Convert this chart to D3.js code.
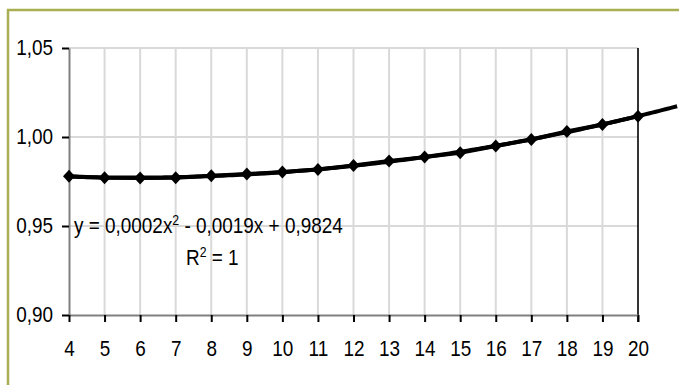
<!DOCTYPE html>
<html>
<head>
<meta charset="utf-8">
<script src="https://cdn.jsdelivr.net/npm/d3@7/dist/d3.min.js"></script>
<style>
  html, body { margin: 0; padding: 0; background: #fff; }
  svg { display: block; }
  text { font-family: "Liberation Sans", Arial, sans-serif; fill: #000; }
</style>
</head>
<body>
<svg id="chart" width="679" height="385"></svg>
<script>
// ---- data ----
const categories = [4, 5, 6, 7, 8, 9, 10, 11, 12, 13, 14, 15, 16, 17, 18, 19, 20];
const seriesValues = [0.9780, 0.9771, 0.9770, 0.9771, 0.9782, 0.9792, 0.9803, 0.9817, 0.9840,
                      0.9865, 0.9887, 0.9912, 0.9949, 0.9986, 1.0031, 1.0070, 1.0117];
const yTicks = [0.90, 0.95, 1.00, 1.05];
const xTicks = categories;
const equationText = ["y = 0,0002x", "2", " - 0,0019x + 0,9824"];
const r2Text = ["R", "2", " = 1"];
const trendForward = 1.1;

(function () {
// ---- layout ----
const pL = 69, pR = 638, pT = 48, pB = 315;
const FS = 21.5, SX = 0.88;
const svg = d3.select("#chart");

// outer frame (extends past image edge on right/bottom)
svg.append("rect")
  .attr("x", 8).attr("y", 10).attr("width", 720).attr("height", 420)
  .attr("fill", "#fff").attr("stroke", "#a9ae52").attr("stroke-width", 2.5);

const x = d3.scaleLinear().domain([4, 20]).range([pL, pR]);
const y = d3.scaleLinear().domain([0.90, 1.05]).range([pB, pT]);

// gridlines
const grid = svg.append("g");
grid.selectAll("line.h").data(yTicks.filter(v => v > 0.9)).join("line")
  .attr("x1", pL).attr("x2", pR)
  .attr("y1", d => y(d)).attr("y2", d => y(d))
  .attr("stroke", "#d9d9d9").attr("stroke-width", 2);
grid.selectAll("line.v").data(xTicks.filter(v => v > 4 && v < 20)).join("line")
  .attr("x1", d => x(d)).attr("x2", d => x(d))
  .attr("y1", pT).attr("y2", pB)
  .attr("stroke", "#d9d9d9").attr("stroke-width", 2);
// dark line at the last category
svg.append("line")
  .attr("x1", x(20)).attr("x2", x(20)).attr("y1", pT).attr("y2", pB + 7)
  .attr("stroke", "#000").attr("stroke-width", 1.6);

// axes
const fmt = d => d.toFixed(2).replace(".", ",");
const yAxis = svg.append("g").attr("transform", `translate(${pL},0)`)
  .call(d3.axisLeft(y).tickValues(yTicks).tickFormat(fmt).tickSize(7).tickSizeOuter(0).tickPadding(9));
const xAxis = svg.append("g").attr("transform", `translate(0,${pB})`)
  .call(d3.axisBottom(x).tickValues(xTicks).tickFormat(d3.format("d")).tickSize(7).tickSizeOuter(0).tickPadding(19));
[yAxis, xAxis].forEach(g => {
  g.select(".domain").attr("stroke", "#808080").attr("stroke-width", 2);
  g.selectAll(".tick line").attr("stroke", "#000").attr("stroke-width", 2);
  g.selectAll(".tick text")
    .style("font-family", '"Liberation Sans", Arial, sans-serif')
    .style("font-size", FS + "px").attr("fill", "#000")
    .each(function () {
      const t = d3.select(this);
      const xv = +t.attr("x") || 0;
      t.attr("x", xv / SX).attr("transform", `scale(${SX},1)`);
    });
});

// quadratic least-squares trend from the series
function quadFit(xs, ys) {
  let S = [0,0,0,0,0], T = [0,0,0];
  xs.forEach((xv, i) => {
    for (let k = 0; k < 5; k++) S[k] += Math.pow(xv, k);
    for (let k = 0; k < 3; k++) T[k] += ys[i] * Math.pow(xv, k);
  });
  const A = [[S[0],S[1],S[2],T[0]],[S[1],S[2],S[3],T[1]],[S[2],S[3],S[4],T[2]]];
  for (let i = 0; i < 3; i++) {
    for (let j = i + 1; j < 3; j++) {
      const f = A[j][i] / A[i][i];
      for (let k = i; k < 4; k++) A[j][k] -= f * A[i][k];
    }
  }
  const c = [0,0,0];
  for (let i = 2; i >= 0; i--) {
    let s = A[i][3];
    for (let k = i + 1; k < 3; k++) s -= A[i][k] * c[k];
    c[i] = s / A[i][i];
  }
  return c;
}
const coef = quadFit(categories, seriesValues);
const trendXs = d3.range(4, 20 + trendForward + 0.001, 0.1);
const trend = trendXs.map(t => [t, coef[0] + coef[1]*t + coef[2]*t*t]);

const data = categories.map((c, i) => [c, seriesValues[i]]);
svg.append("path").datum(data)
  .attr("d", d3.line().x(d => x(d[0])).y(d => y(d[1])))
  .attr("fill", "none").attr("stroke", "#000").attr("stroke-width", 4).attr("stroke-linejoin", "round");
svg.append("path").datum(trend)
  .attr("d", d3.line().x(d => x(d[0])).y(d => y(d[1])))
  .attr("fill", "none").attr("stroke", "#000").attr("stroke-width", 4);

svg.selectAll("path.pt").data(data).join("path")
  .attr("transform", d => `translate(${x(d[0])},${y(d[1])})`)
  .attr("d", "M0,-6.5L6,0L0,6.5L-6,0Z")
  .attr("fill", "#000");

// trendline label
function label(px, py, parts) {
  const t = svg.append("text")
    .attr("transform", `translate(${px},${py}) scale(${SX},1)`)
    .style("font-size", FS + "px");
  t.append("tspan").text(parts[0]);
  t.append("tspan").attr("dy", -8.5).style("font-size", "14px").text(parts[1]);
  t.append("tspan").attr("dy", 8.5).text(parts[2]);
}
label(74, 233, equationText);
label(186, 265, r2Text);
})();
</script>
</body>
</html>
